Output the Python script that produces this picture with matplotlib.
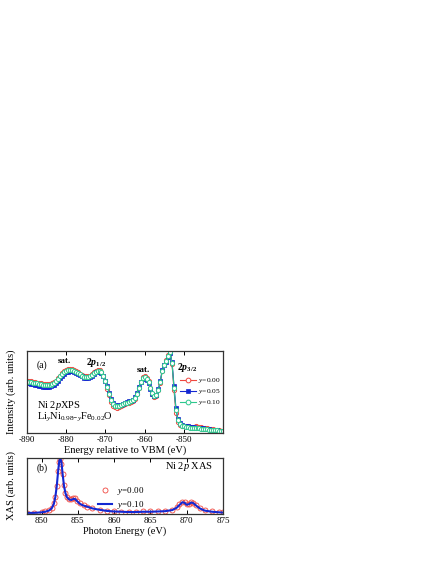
import matplotlib
matplotlib.use('Agg')
import matplotlib.pyplot as plt

plt.rcParams.update({
    'font.family': ['Liberation Serif', 'DejaVu Serif'],
    'mathtext.fontset': 'custom',
    'mathtext.rm': 'Liberation Serif',
    'mathtext.it': 'Liberation Serif:italic',
    'mathtext.bf': 'Liberation Serif:bold',
    'mathtext.bfit': 'Liberation Serif:bold:italic',
    'axes.unicode_minus': False,
    'xtick.direction': 'in',
    'ytick.direction': 'in',
})

# --- (a) Ni 2p XPS, energy grid in eV ---
xps_x = [-890, -889.5, -889, -888.5, -888, -887.5, -887, -886.5, -886, -885.5,
         -885, -884.5, -884, -883.5, -883, -882.5, -882, -881.5, -881, -880.5,
         -880, -879.5, -879, -878.5, -878, -877.5, -877, -876.5, -876, -875.5,
         -875, -874.5, -874, -873.5, -873, -872.5, -872, -871.5, -871, -870.5,
         -870, -869.5, -869, -868.5, -868, -867.5, -867, -866.5, -866, -865.5,
         -865, -864.5, -864, -863.5, -863, -862.5, -862, -861.5, -861, -860.5,
         -860, -859.5, -859, -858.5, -858, -857.5, -857, -856.5, -856, -855.5,
         -855, -854.5, -854, -853.5, -853, -852.5, -852, -851.5, -851, -850.5,
         -850, -849.5, -849, -848.5, -848, -847.5, -847, -846.5, -846, -845.5,
         -845, -844.5, -844, -843.5, -843, -842.5, -842, -841.5, -841, -840.5,
         -840]
xps_y000 = [0.63, 0.63, 0.63, 0.625, 0.62, 0.615, 0.61, 0.605, 0.60, 0.595,
            0.595, 0.595, 0.60, 0.61, 0.62, 0.64, 0.67, 0.70, 0.73, 0.755,
            0.77, 0.78, 0.78, 0.775, 0.77, 0.755, 0.74, 0.725, 0.71, 0.695,
            0.69, 0.69, 0.70, 0.72, 0.74, 0.76, 0.77, 0.765, 0.75, 0.70,
            0.63, 0.54, 0.46, 0.38, 0.33, 0.315, 0.31, 0.32, 0.33, 0.34,
            0.35, 0.36, 0.37, 0.38, 0.39, 0.42, 0.47, 0.55, 0.62, 0.68,
            0.69, 0.67, 0.63, 0.55, 0.48, 0.44, 0.45, 0.52, 0.61, 0.76,
            0.83, 0.89, 0.95, 1.00, 0.84, 0.52, 0.25, 0.14, 0.10, 0.09,
            0.085, 0.08, 0.08, 0.078, 0.075, 0.078, 0.08, 0.075, 0.07, 0.068,
            0.065, 0.06, 0.055, 0.05, 0.05, 0.045, 0.04, 0.038, 0.035, 0.03,
            0.03]
xps_y005 = [0.61, 0.61, 0.60, 0.595, 0.59, 0.58, 0.575, 0.57, 0.565, 0.56,
            0.56, 0.565, 0.57, 0.58, 0.59, 0.61, 0.64, 0.67, 0.70, 0.725,
            0.74, 0.75, 0.755, 0.755, 0.75, 0.735, 0.72, 0.705, 0.69, 0.675,
            0.67, 0.67, 0.68, 0.70, 0.72, 0.74, 0.75, 0.745, 0.73, 0.70,
            0.64, 0.57, 0.49, 0.41, 0.36, 0.34, 0.335, 0.34, 0.345, 0.355,
            0.365, 0.375, 0.385, 0.395, 0.405, 0.44, 0.49, 0.56, 0.62, 0.66,
            0.67, 0.65, 0.61, 0.54, 0.48, 0.45, 0.465, 0.54, 0.63, 0.77,
            0.83, 0.87, 0.93, 0.98, 0.86, 0.57, 0.30, 0.17, 0.12, 0.10,
            0.09, 0.085, 0.08, 0.075, 0.07, 0.068, 0.065, 0.062, 0.06, 0.058,
            0.055, 0.052, 0.05, 0.045, 0.04, 0.038, 0.035, 0.033, 0.03, 0.03,
            0.03]
xps_y010 = [0.62, 0.62, 0.62, 0.615, 0.61, 0.605, 0.60, 0.595, 0.59, 0.585,
            0.585, 0.585, 0.59, 0.60, 0.61, 0.63, 0.66, 0.69, 0.72, 0.745,
            0.76, 0.77, 0.77, 0.765, 0.76, 0.745, 0.73, 0.715, 0.70, 0.685,
            0.68, 0.68, 0.69, 0.71, 0.73, 0.75, 0.76, 0.755, 0.74, 0.70,
            0.64, 0.56, 0.48, 0.40, 0.35, 0.335, 0.33, 0.335, 0.34, 0.35,
            0.36, 0.37, 0.38, 0.39, 0.40, 0.43, 0.48, 0.55, 0.62, 0.67,
            0.68, 0.66, 0.62, 0.55, 0.49, 0.45, 0.46, 0.53, 0.62, 0.76,
            0.83, 0.88, 0.94, 0.99, 0.85, 0.55, 0.28, 0.16, 0.11, 0.09,
            0.08, 0.075, 0.07, 0.065, 0.06, 0.06, 0.06, 0.058, 0.055, 0.052,
            0.05, 0.048, 0.045, 0.042, 0.04, 0.038, 0.035, 0.032, 0.03, 0.03,
            0.03]
xps_ticks = [-890, -880, -870, -860, -850]

# --- (b) Ni 2p XAS ---
xas_x = [848.0, 849.0, 850.0, 850.5, 851.0, 851.4, 851.7, 851.9, 852.1, 852.3, 852.45, 852.6, 852.75,
         852.9, 853.1, 853.3, 853.5, 853.8, 854.1, 854.4, 854.6, 854.9, 855.3, 855.8, 856.3, 857.0,
         858.0, 859.0, 860.0, 861.0, 862.0, 863.0, 864.0, 865.0, 866.0, 867.0, 868.0, 868.6, 869.0,
         869.4, 869.7, 870.0, 870.3, 870.6, 870.9, 871.3, 871.8, 872.5, 873.5, 874.5, 875.0]
xas_y000 = [0.025, 0.025, 0.03, 0.045, 0.065, 0.11, 0.19, 0.31, 0.50, 0.76, 0.93, 0.98, 0.90,
            0.72, 0.51, 0.38, 0.31, 0.27, 0.26, 0.29, 0.29, 0.24, 0.19, 0.16, 0.13, 0.10,
            0.075, 0.055, 0.045, 0.04, 0.04, 0.04, 0.045, 0.045, 0.05, 0.055, 0.075, 0.12, 0.17,
            0.22, 0.21, 0.17, 0.18, 0.21, 0.20, 0.16, 0.11, 0.07, 0.05, 0.04, 0.03]
xas_y010 = [0.02, 0.02, 0.03, 0.04, 0.06, 0.10, 0.18, 0.30, 0.50, 0.78, 0.95, 1.00, 0.92,
            0.72, 0.50, 0.37, 0.30, 0.26, 0.25, 0.27, 0.27, 0.23, 0.18, 0.15, 0.13, 0.10,
            0.075, 0.055, 0.045, 0.04, 0.035, 0.035, 0.04, 0.04, 0.045, 0.05, 0.07, 0.11, 0.16,
            0.21, 0.20, 0.165, 0.175, 0.205, 0.195, 0.15, 0.10, 0.06, 0.04, 0.03, 0.025]
xas_ticks = [850, 855, 860, 865, 870, 875]

red, blue, green = '#f0473f', '#1428d2', '#2ec88e'
W, H = 436, 564
fig = plt.figure(figsize=(W / 100, H / 100), dpi=100)

def frame(ax, ticks):
    ax.set_xticks(ticks)
    ax.set_yticks([])
    ax.tick_params(axis='x', top=True, length=3, width=0.7, labelsize=6.5, pad=2)
    for s in ax.spines.values():
        s.set_linewidth(0.9); s.set_color('#333333')

ax1 = fig.add_axes([27 / W, 1 - 433 / H, 196 / W, 82 / H])
ax1.plot(xps_x, xps_y000, '-o', color=red, mfc='white', ms=3.0, mew=0.7, lw=0.8, label=r'$y$=0.00')
ax1.plot(xps_x, xps_y005, '-s', color=blue, mfc=blue, ms=2.4, mew=0.5, lw=0.8, label=r'$y$=0.05')
ax1.plot(xps_x, xps_y010, '-o', color=green, mfc='white', ms=3.0, mew=0.7, lw=0.8, label=r'$y$=0.10')
ax1.set_xlim(-890, -840); ax1.set_ylim(0, 1.0)
frame(ax1, xps_ticks)
ax1.set_xlabel('Energy relative to VBM (eV)', fontsize=7.5, labelpad=1)
ax1.set_ylabel('Intensity (arb. units)', fontsize=7.5, labelpad=8)
leg = ax1.legend(loc='upper left', bbox_to_anchor=(0.78, 0.69), frameon=False, fontsize=5.3,
                 handlelength=2.2, handletextpad=0.3, labelspacing=0.25, borderpad=0, borderaxespad=0)
for h in leg.legend_handles:
    h.set_markersize(3.4)
ax1.text(0.05, 0.83, '(a)', transform=ax1.transAxes, fontsize=7, va='center')
ax1.text(-880.5, 0.88, 'sat.', fontsize=6.5, fontweight='bold', ha='center', va='center')
ax1.text(-872.3, 0.86, r'$\mathbf{2}\mathbfit{p}_{\mathbf{1/2}}$', fontsize=7, ha='center', va='center')
ax1.text(-860.3, 0.77, 'sat.', fontsize=6.5, fontweight='bold', ha='center', va='center')
ax1.text(-849.2, 0.80, r'$\mathbf{2}\mathbfit{p}_{\mathbf{3/2}}$', fontsize=7, ha='center', va='center')
ax1.text(0.05, 0.34, r'Ni 2$p$XPS', transform=ax1.transAxes, fontsize=7.5, va='center')
ax1.text(0.05, 0.19, r'Li$_{y}$Ni$_{0.98\mathrm{-}y}$Fe$_{0.02}$O', transform=ax1.transAxes,
         fontsize=7.5, va='center')

ax2 = fig.add_axes([27 / W, 1 - 514 / H, 196 / W, 56 / H])
ax2.plot(xas_x, xas_y000, 'o', color=red, mfc='none', ms=3.6, mew=0.6, label=r'$y$=0.00')
ax2.plot(xas_x, xas_y010, '-', color=blue, lw=1.5, label=r'$y$=0.10')
ax2.set_xlim(848, 875); ax2.set_ylim(0, 1.0)
frame(ax2, xas_ticks)
ax2.set_xlabel('Photon Energy (eV)', fontsize=7.5, labelpad=1)
ax2.set_ylabel('XAS (arb. units)', fontsize=7.5, labelpad=8)
ax2.legend(loc='upper left', bbox_to_anchor=(0.36, 0.52), frameon=False, fontsize=6.5,
           handlelength=1.6, handletextpad=0.5, labelspacing=0.2, borderpad=0, borderaxespad=0)
ax2.text(0.05, 0.82, '(b)', transform=ax2.transAxes, fontsize=7, va='center')
ax2.text(0.95, 0.84, r'Ni 2$p$ XAS', transform=ax2.transAxes, fontsize=7.5, va='center', ha='right')

fig.savefig('out.png', dpi=100)
